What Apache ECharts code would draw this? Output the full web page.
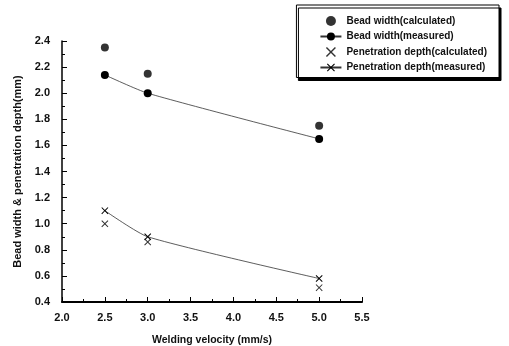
<!DOCTYPE html>
<html>
<head>
<meta charset="utf-8">
<script src="https://cdn.jsdelivr.net/npm/echarts@6/dist/echarts.min.js"></script>
<style>
  html, body { margin: 0; padding: 0; background: #fff; }
  #chart { width: 509px; height: 346px; }
</style>
</head>
<body>
<div id="chart"></div>
<script>
// welding velocity (mm/s)
const velocity = [2.5, 3.0, 5.0]
const beadCalc = [2.35, 2.15, 1.75]
const beadMeas = [2.14, 2.0, 1.65]
const penCalc = [1.0, 0.86, 0.51]
const penMeas = [1.1, 0.9, 0.58]

const names = [
  'Bead width(calculated)',
  'Bead width(measured)',
  'Penetration depth(calculated)',
  'Penetration depth(measured)'
]

const cross = 'path://M0,1L1,0L5,4L9,0L10,1L6,5L10,9L9,10L5,6L1,10L0,9L4,5Z'
const pairs = vals => velocity.map((v, i) => [v, vals[i]])

const chart = echarts.init(document.getElementById('chart'))

const axisFont = { color: '#111', fontFamily: 'Liberation Sans, Arial', fontSize: 11, fontWeight: 'bold' }
const nameFont = { color: '#111', fontFamily: 'Liberation Sans, Arial', fontSize: 10.5, fontWeight: 'bold' }

chart.setOption({
  animation: false,
  grid: { left: 62, right: 147, top: 41, bottom: 44, outerBoundsMode: 'none' },
  legend: {
    orient: 'vertical',
    right: 10,
    top: 5,
    itemWidth: 21,
    itemHeight: 10,
    itemGap: 5.5,
    padding: [11, 12, 5, 23],
    backgroundColor: '#fff',
    borderColor: '#000',
    borderWidth: 1,
    borderRadius: 0,
    shadowColor: '#000',
    shadowOffsetX: 2,
    shadowOffsetY: 3,
    shadowBlur: 0,
    textStyle: { color: '#111', fontFamily: 'Liberation Sans, Arial', fontSize: 10, fontWeight: 'bold', lineHeight: 10 },
    data: names
  },
  xAxis: {
    type: 'value',
    min: 2.0,
    max: 5.5,
    interval: 0.5,
    name: 'Welding velocity (mm/s)',
    nameLocation: 'middle',
    nameGap: 33,
    nameTextStyle: nameFont,
    axisLine: { onZero: false, lineStyle: { color: '#000', width: 2 } },
    axisTick: { inside: true, length: 5, lineStyle: { color: '#000' } },
    minorTick: { show: true, splitNumber: 2, length: 3, lineStyle: { color: '#000' } },
    axisLabel: Object.assign({ margin: 10, formatter: v => v.toFixed(1) }, axisFont),
    splitLine: { show: false }
  },
  yAxis: {
    type: 'value',
    min: 0.4,
    max: 2.4,
    interval: 0.2,
    name: 'Bead width & penetration depth(mm)',
    nameLocation: 'middle',
    nameGap: 38,
    nameTextStyle: Object.assign({}, nameFont, { fontSize: 11 }),
    axisLine: { onZero: false, lineStyle: { color: '#000', width: 1.5 } },
    axisTick: { inside: true, length: 5, lineStyle: { color: '#000' } },
    minorTick: { show: true, splitNumber: 2, length: 3, lineStyle: { color: '#000' } },
    axisLabel: Object.assign({ margin: 12, formatter: v => v.toFixed(1) }, axisFont),
    splitLine: { show: false }
  },
  series: [
    {
      name: names[0],
      type: 'scatter',
      symbol: 'circle',
      symbolSize: 8,
      itemStyle: { color: '#000' },
      data: pairs(beadCalc)
    },
    {
      name: names[1],
      type: 'line',
      symbol: 'circle',
      symbolSize: 8,
      smooth: 0.2,
      itemStyle: { color: '#000' },
      lineStyle: { color: '#333', width: 0.8 },
      data: pairs(beadMeas)
    },
    {
      name: names[2],
      type: 'scatter',
      symbol: cross,
      symbolSize: 7,
      itemStyle: { color: '#000' },
      data: pairs(penCalc)
    },
    {
      name: names[3],
      type: 'line',
      symbol: cross,
      symbolSize: 7,
      smooth: 0.2,
      itemStyle: { color: '#000' },
      lineStyle: { color: '#333', width: 0.8 },
      data: pairs(penMeas)
    }
  ]
})
</script>
</body>
</html>
